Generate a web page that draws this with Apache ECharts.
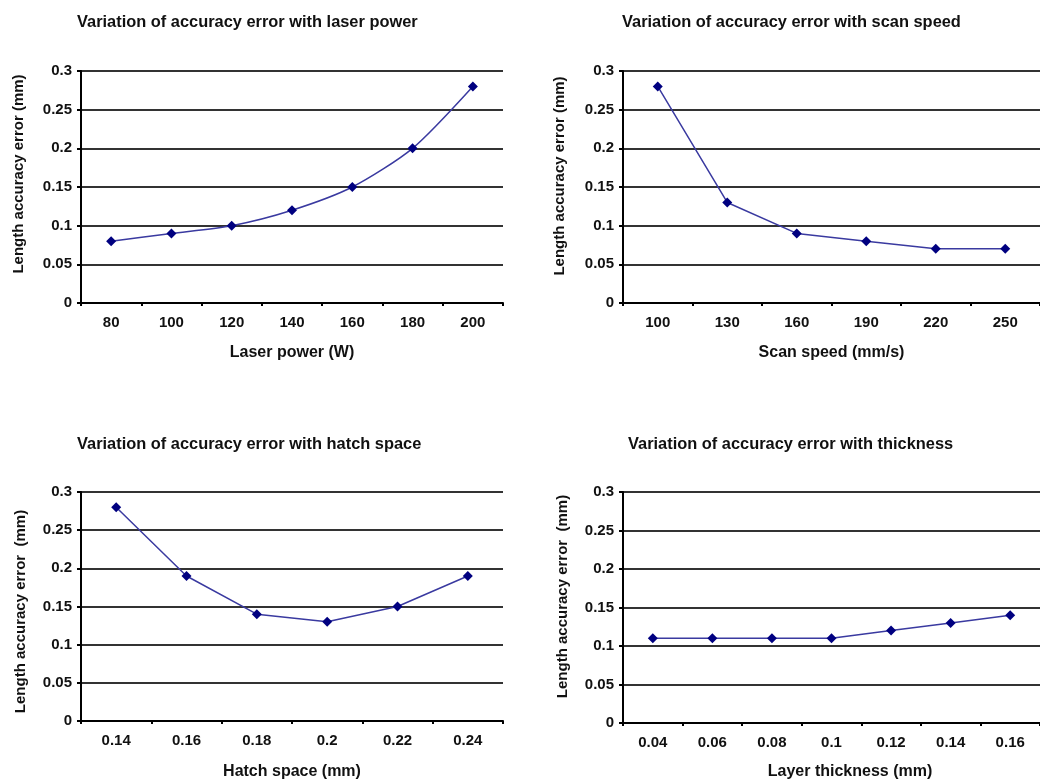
<!DOCTYPE html>
<html>
<head>
<meta charset="utf-8">
<script src="https://cdn.jsdelivr.net/npm/echarts@6/dist/echarts.min.js"></script>
<style>
html,body{margin:0;padding:0;background:#fff;}
#chart{width:1040px;height:781px;}
</style>
</head>
<body>
<div id="chart"></div>
<script>
// ---- data ----
const laserPower = ['80', '100', '120', '140', '160', '180', '200'];
const laserErr = [0.08, 0.09, 0.10, 0.12, 0.15, 0.20, 0.28];

const scanSpeed = ['100', '130', '160', '190', '220', '250'];
const scanErr = [0.28, 0.13, 0.09, 0.08, 0.07, 0.07];

const hatchSpace = ['0.14', '0.16', '0.18', '0.2', '0.22', '0.24'];
const hatchErr = [0.28, 0.19, 0.14, 0.13, 0.15, 0.19];

const layerThickness = ['0.04', '0.06', '0.08', '0.1', '0.12', '0.14', '0.16'];
const thickErr = [0.11, 0.11, 0.11, 0.11, 0.12, 0.13, 0.14];

const titles = [
  'Variation of accuracy error with laser power',
  'Variation of accuracy error with scan speed',
  'Variation of accuracy error with hatch space',
  'Variation of accuracy error with thickness'
];
const xNames = ['Laser power (W)', 'Scan speed (mm/s)', 'Hatch space (mm)', 'Layer thickness (mm)'];
const yNames = ['Length accuracy error (mm)', 'Length accuracy error (mm)', 'Length accuracy error  (mm)', 'Length accuracy error  (mm)'];
const yTicks = [0, 0.05, 0.1, 0.15, 0.2, 0.25, 0.3];

// ---- layout ----
const FONT = '"Liberation Sans", Arial, sans-serif';
const grids = [
  {left: 81, top: 71, width: 422, height: 232},
  {left: 623, top: 71, width: 423, height: 232},
  {left: 81, top: 492, width: 422, height: 232},
  {left: 623, top: 492, width: 423, height: 232}
];
const titlePos = [[72, 9], [617, 9], [72, 431], [623, 431]];
const yNamePad = [[0, 0, 0, 26], [0, 0, 0, 22], [0, 10, 0, 0], [0, 0, 0, 22]];
const yNameGap = [55, 56, 53, 53];
const xNamePad = [[0, 0, 0, 0], [0, 0, 0, 0], [0, 0, 0, 0], [0, 0, 0, 37]];
const xNameGap = [42, 42, 43, 41];
const cats = [laserPower, scanSpeed, hatchSpace, layerThickness];
const vals = [laserErr, scanErr, hatchErr, thickErr];
const smooth = [0.25, false, false, false];

const option = {
  backgroundColor: '#fff',
  animation: false,
  textStyle: {fontFamily: FONT},
  title: titles.map((t, i) => ({
    text: t, left: titlePos[i][0], top: titlePos[i][1],
    textStyle: {fontFamily: FONT, fontSize: 16.4, fontWeight: 'bold', color: '#111'}
  })),
  grid: grids,
  xAxis: cats.map((c, i) => ({
    type: 'category', gridIndex: i, data: c, boundaryGap: true,
    name: xNames[i], nameLocation: 'middle', nameGap: xNameGap[i],
    nameTextStyle: {fontFamily: FONT, fontSize: 16, fontWeight: 'bold', color: '#111', padding: xNamePad[i]},
    axisLine: {lineStyle: {color: '#000', width: 2}},
    axisTick: {show: true, length: 3, lineStyle: {color: '#000', width: 2}},
    axisLabel: {fontFamily: FONT, fontSize: 15, fontWeight: 'bold', color: '#111', margin: 12, interval: 0},
    splitLine: {show: false}
  })),
  yAxis: cats.map((c, i) => ({
    type: 'value', gridIndex: i, min: 0, max: 0.3, interval: 0.05,
    name: yNames[i], nameLocation: 'middle', nameGap: yNameGap[i], nameRotate: 90,
    nameTextStyle: {fontFamily: FONT, fontSize: 15, fontWeight: 'bold', color: '#111', padding: yNamePad[i]},
    axisLine: {show: true, lineStyle: {color: '#000', width: 2}},
    axisTick: {show: true, length: 4, lineStyle: {color: '#000', width: 2}},
    axisLabel: {fontFamily: FONT, fontSize: 15, fontWeight: 'bold', color: '#111', margin: 9,
      formatter: v => String(+v.toFixed(2))},
    splitLine: {show: true, lineStyle: {color: '#333', width: 2}}
  })),
  series: vals.map((v, i) => ({
    type: 'line', xAxisIndex: i, yAxisIndex: i, data: v, smooth: smooth[i],
    symbol: 'diamond', symbolSize: 10,
    itemStyle: {color: '#000080'},
    lineStyle: {color: '#3a3aa0', width: 1.5}
  }))
};

const chart = echarts.init(document.getElementById('chart'), null, {renderer: 'canvas'});
chart.setOption(option);
</script>
</body>
</html>
